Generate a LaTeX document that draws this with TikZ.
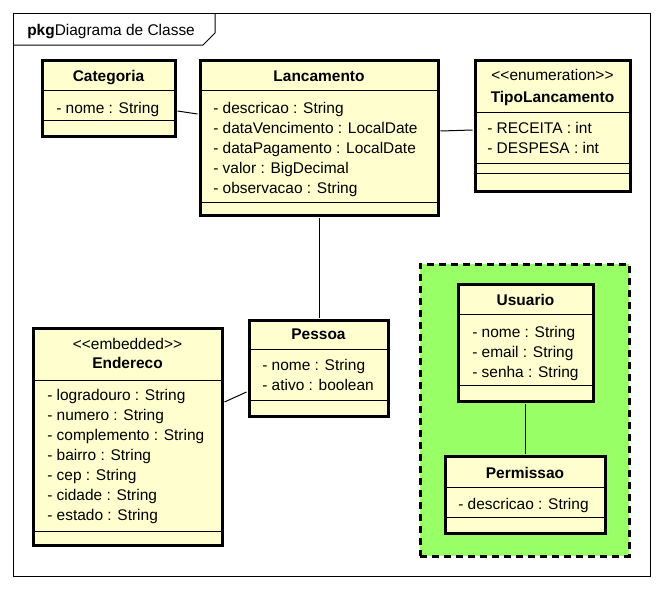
\documentclass[tikz,border=0pt]{standalone}
\usepackage{fontspec}
\setmainfont{Liberation Sans}
\usetikzlibrary{fit,calc}
\definecolor{clsfill}{HTML}{FEFECE}
\definecolor{pkgfill}{RGB}{153,255,102}
\tikzset{
  cls/.style={draw, line width=2.25pt, fill=clsfill, inner sep=0pt},
  grpbox/.style={draw, line width=2.25pt, dash pattern=on 5.25pt off 3.75pt, fill=pkgfill, inner sep=0pt},
  framebox/.style={draw, line width=0.75pt, inner sep=0pt},
  sep/.style={line width=0.75pt},
  assoc/.style={line width=0.75pt},
  txt/.style={inner sep=0pt, yshift=0.9pt, font=\fontsize{11.6}{14}\selectfont},
  attr/.style={txt, anchor=base west},
  cname/.style={txt, anchor=base, font=\fontsize{11.6}{14}\selectfont\bfseries},
  stereo/.style={txt, anchor=base},
}
\begin{document}
\begin{tikzpicture}[x=0.75pt,y=-0.75pt]
\useasboundingbox (0,0) rectangle (664,589);
\fill[white] (0,0) rectangle (664,589);

% package frame
\node[framebox, fit={(13,13) (650,576)}] (frame) {};
\draw[sep] (13,45) -- (203,45) -- (215,33) -- (215,13);
\node[attr] (title) at (27,36.5) {\textbf{pkg}Diagrama de Classe};

% green group
\node[grpbox, fit={(420,264) (629,556)}] (grp) {};

% Categoria
\node[cls, fit={(42,60) (175,136)}] (cat) {};
\draw[sep] (42,90) -- (175,90);
\draw[sep] (42,120) -- (175,120);
\node[cname] (catN) at (108.5,83) {Categoria};
\node[attr] (catA1) at (56,115) {- nome : String};

% Lancamento
\node[cls, fit={(200,60) (438,215)}] (lan) {};
\draw[sep] (200,90) -- (438,90);
\draw[sep] (200,202) -- (438,202);
\node[cname] (lanN) at (319,83) {Lancamento};
\node[attr] (lanA1) at (213,115) {- descricao : String};
\node[attr] (lanA2) at (213,135) {- dataVencimento : LocalDate};
\node[attr] (lanA3) at (213,155) {- dataPagamento : LocalDate};
\node[attr] (lanA4) at (213,175) {- valor : BigDecimal};
\node[attr] (lanA5) at (213,195) {- observacao : String};

% TipoLancamento
\node[cls, fit={(475,60) (630,191)}] (tipo) {};
\draw[sep] (475,112) -- (630,112);
\draw[sep] (475,163) -- (630,163);
\draw[sep] (475,173) -- (630,173);
\node[stereo] (tipoS) at (552.5,82) {{<}{<}enumeration{>}{>}};
\node[cname] (tipoN) at (552.5,104) {TipoLancamento};
\node[attr] (tipoA1) at (487,135) {- RECEITA : int};
\node[attr] (tipoA2) at (487,155) {- DESPESA : int};

% Pessoa
\node[cls, fit={(249,320) (388,416)}] (pes) {};
\draw[sep] (249,349) -- (388,349);
\draw[sep] (249,400) -- (388,400);
\node[cname] (pesN) at (318.5,341) {Pessoa};
\node[attr] (pesA1) at (262,372) {- nome : String};
\node[attr] (pesA2) at (262,392) {- ativo : boolean};

% Endereco
\node[cls, fit={(33,328) (222,545)}] (end) {};
\draw[sep] (33,380) -- (222,380);
\draw[sep] (33,531) -- (222,531);
\node[stereo] (endS) at (127.5,351) {{<}{<}embedded{>}{>}};
\node[cname] (endN) at (127.5,370) {Endereco};
\node[attr] (endA1) at (47,402) {- logradouro : String};
\node[attr] (endA2) at (47,422) {- numero : String};
\node[attr] (endA3) at (47,442) {- complemento : String};
\node[attr] (endA4) at (47,462) {- bairro : String};
\node[attr] (endA5) at (47,482) {- cep : String};
\node[attr] (endA6) at (47,502) {- cidade : String};
\node[attr] (endA7) at (47,522) {- estado : String};

% Usuario
\node[cls, fit={(458,284) (593,401)}] (usu) {};
\draw[sep] (458,314) -- (593,314);
\draw[sep] (458,385) -- (593,385);
\node[cname] (usuN) at (525.5,307) {Usuario};
\node[attr] (usuA1) at (472,339) {- nome : String};
\node[attr] (usuA2) at (472,359) {- email : String};
\node[attr] (usuA3) at (472,379) {- senha : String};

% Permissao
\node[cls, fit={(445,456) (605,533)}] (per) {};
\draw[sep] (445,487) -- (605,487);
\draw[sep] (445,517) -- (605,517);
\node[cname] (perN) at (525,480) {Permissao};
\node[attr] (perA1) at (458,511) {- descricao : String};

% associations
\draw[assoc] ($(cat.east)+(1,13)$) -- ($(lan.west)+(-1,-23.5)$);
\draw[assoc] ($(lan.east)+(1,-6.5)$) -- ($(tipo.west)+(-1,4.5)$);
\draw[assoc] ($(lan.south)+(0,1)$) -- ($(lan.south |- pes.north)+(0,-1)$);
\draw[assoc] ($(end.east)+(1,-34.5)$) -- ($(pes.west)+(-1,24)$);
\draw[assoc] ($(usu.south)+(0,1)$) -- ($(usu.south |- per.north)+(0,-1)$);
\end{tikzpicture}
\end{document}
